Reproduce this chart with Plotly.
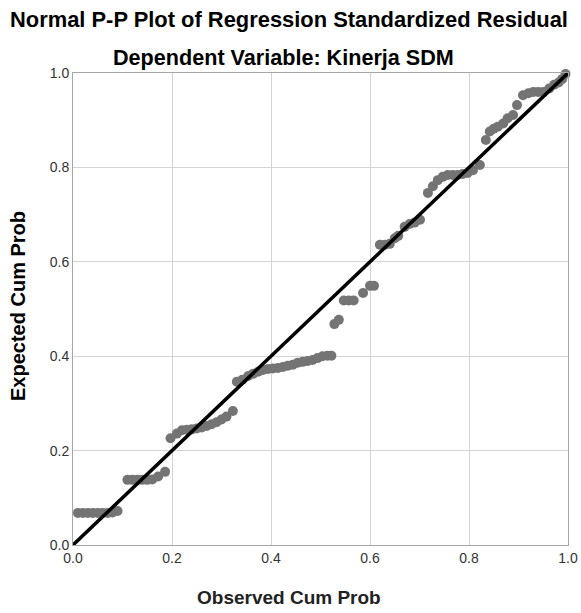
import plotly.graph_objects as go

# Observed cumulative probability (x) and expected cumulative probability (y)
observed = [
    0.01, 0.02, 0.03, 0.04, 0.05, 0.06, 0.07, 0.08, 0.09,
    0.11, 0.12, 0.13, 0.14, 0.15, 0.16, 0.172, 0.186,
    0.197, 0.21, 0.22, 0.23, 0.24, 0.25, 0.26, 0.27, 0.28, 0.29, 0.30, 0.31, 0.323,
    0.331, 0.342, 0.354, 0.364, 0.374, 0.384, 0.394, 0.404, 0.414, 0.424, 0.434, 0.444,
    0.454, 0.464, 0.474, 0.484, 0.494, 0.504, 0.514, 0.522,
    0.528, 0.537,
    0.547, 0.557, 0.567, 0.586, 0.600, 0.608,
    0.620, 0.630, 0.640, 0.650, 0.657, 0.670, 0.680, 0.690, 0.701,
    0.717, 0.727, 0.737, 0.747, 0.757, 0.767, 0.777, 0.787, 0.797, 0.808, 0.822,
    0.834, 0.842, 0.850, 0.858, 0.869, 0.878, 0.889,
    0.897, 0.909, 0.920, 0.930, 0.940, 0.950,
    0.962, 0.972, 0.981, 0.988, 0.995,
]
expected = [
    0.068, 0.068, 0.068, 0.068, 0.068, 0.068, 0.068, 0.069, 0.072,
    0.138, 0.138, 0.138, 0.138, 0.138, 0.139, 0.145, 0.155,
    0.226, 0.236, 0.243, 0.244, 0.245, 0.247, 0.249, 0.252, 0.256, 0.260, 0.266, 0.272, 0.284,
    0.346, 0.350, 0.358, 0.363, 0.367, 0.371, 0.373, 0.374, 0.375, 0.377, 0.380, 0.382,
    0.386, 0.388, 0.390, 0.392, 0.396, 0.400, 0.401, 0.401,
    0.468, 0.477,
    0.518, 0.518, 0.518, 0.534, 0.549, 0.549,
    0.636, 0.636, 0.638, 0.650, 0.655, 0.674, 0.680, 0.683, 0.689,
    0.746, 0.760, 0.773, 0.780, 0.784, 0.784, 0.784, 0.786, 0.788, 0.794, 0.805,
    0.858, 0.876, 0.882, 0.886, 0.893, 0.904, 0.911,
    0.932, 0.953, 0.957, 0.960, 0.960, 0.960,
    0.967, 0.975, 0.980, 0.987, 0.998,
]
tick_vals = [0.0, 0.2, 0.4, 0.6, 0.8, 1.0]
tick_text = ["0.0", "0.2", "0.4", "0.6", "0.8", "1.0"]

FONT = "Liberation Sans, Arial, sans-serif"

# plot area in screenshot pixels: x 73..568, y 73..545
PX0, PX1, PY0, PY1 = 73, 568, 73, 545
def px(xp):
    return (xp - PX0) / (PX1 - PX0)
def py(yp):
    return (PY1 - yp) / (PY1 - PY0)

fig = go.Figure()
fig.add_trace(go.Scatter(
    x=observed, y=expected, mode="markers",
    marker=dict(size=10, color="#747474", line=dict(width=0)),
    cliponaxis=False, showlegend=False, hoverinfo="x+y",
))
fig.add_trace(go.Scatter(
    x=[0, 1], y=[0, 1], mode="lines",
    line=dict(color="black", width=3.5),
    cliponaxis=False, showlegend=False, hoverinfo="skip",
))

axis_common = dict(
    range=[0, 1], tickvals=tick_vals, ticktext=tick_text,
    showgrid=True, gridcolor="#d4d4d4", gridwidth=1,
    showline=True, linecolor="#a6a6a6", linewidth=1, mirror=True,
    zeroline=False, ticks="", tickfont=dict(family=FONT, size=14, color="#333333"),
    fixedrange=True, automargin=False,
)

fig.update_layout(
    width=581, height=613,
    margin=dict(l=PX0, r=581 - PX1, t=PY0, b=613 - PY1),
    paper_bgcolor="white", plot_bgcolor="white",
    font=dict(family=FONT),
    xaxis=dict(**axis_common),
    yaxis=dict(**axis_common),
    annotations=[
        dict(text="<b>Normal P-P Plot of Regression Standardized Residual</b>",
             xref="paper", yref="paper", x=px(289), y=py(20),
             xanchor="center", yanchor="middle", showarrow=False,
             font=dict(family=FONT, size=21.9, color="black")),
        dict(text="<b>Dependent Variable: Kinerja SDM</b>", xref="paper", yref="paper",
             x=px(283), y=py(57), xanchor="center", yanchor="middle",
             showarrow=False, font=dict(family=FONT, size=21.6, color="black")),
        dict(text="<b>Observed Cum Prob</b>", xref="paper", yref="paper",
             x=px(289), y=py(597), xanchor="center", yanchor="middle",
             showarrow=False, font=dict(family=FONT, size=19, color="#222222")),
        dict(text="<b>Expected Cum Prob</b>", xref="paper", yref="paper",
             x=px(18), y=py(306), xanchor="center", yanchor="middle",
             textangle=-90, showarrow=False, font=dict(family=FONT, size=20, color="black")),
    ],
)

fig.write_html(
    "out.html",
    config={"responsive": False, "displayModeBar": False},
    post_script="document.body.style.margin='0';document.body.style.overflow='hidden';",
)
